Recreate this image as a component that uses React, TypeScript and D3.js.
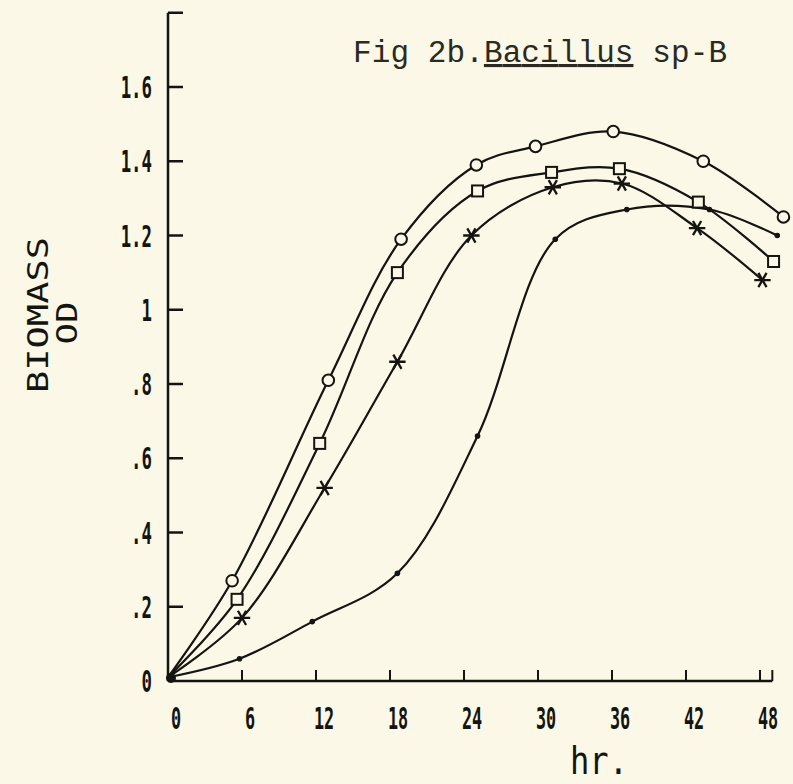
import React, { useRef, useEffect } from 'react';
import * as d3 from 'd3';

// growth readings (hours vs optical density)
const circleHr = [0, 5.2, 13.0, 18.9, 25.0, 29.8, 36.1, 43.4, 49.9];
const circleOD = [0.01, 0.27, 0.81, 1.19, 1.39, 1.44, 1.48, 1.4, 1.25];
const squareHr = [0, 5.6, 12.3, 18.6, 25.1, 31.1, 36.6, 43.0, 49.1];
const squareOD = [0.01, 0.22, 0.64, 1.1, 1.32, 1.37, 1.38, 1.29, 1.13];
const starHr = [0, 6.0, 12.7, 18.6, 24.6, 31.2, 36.8, 42.9, 48.2];
const starOD = [0.01, 0.17, 0.52, 0.86, 1.2, 1.33, 1.34, 1.22, 1.08];
const dotHr = [0, 5.8, 11.7, 18.6, 25.1, 31.4, 37.2, 43.9, 49.4];
const dotOD = [0.01, 0.06, 0.16, 0.29, 0.66, 1.19, 1.27, 1.27, 1.2];

const xTicks = [0, 6, 12, 18, 24, 30, 36, 42, 48];
const xTickLabels = ['0', '6', '12', '18', '24', '30', '36', '42', '48'];
const yTicks = [0, 0.2, 0.4, 0.6, 0.8, 1, 1.2, 1.4, 1.6, 1.8];
const yTickLabels = ['0', '.2', '.4', '.6', '.8', '1', '1.2', '1.4', '1.6', ''];

const PAPER = '#fbf8e7';
const INK = '#141410';
const PLOT_FONT = '"DejaVu Sans Mono", monospace';
const TYPE_FONT = '"Liberation Mono", "Courier New", monospace';

const zip = (xs: number[], ys: number[]) => xs.map((h, i) => ({ h, v: ys[i] }));

const BiomassChart = () => {
  const ref = useRef<SVGSVGElement>(null);

  useEffect(() => {
    const width = 793;
    const height = 784;
    const svg = d3.select(ref.current).attr('viewBox', `0 0 ${width} ${height}`);
    svg.selectAll('*').remove();

    svg.append('rect').attr('width', width).attr('height', height).attr('fill', PAPER);

    const x = d3.scaleLinear().domain([0, 48]).range([168, 760]);
    const y = d3.scaleLinear().domain([0, 1.6]).range([681, 87]);

    const axes = svg.append('g').attr('stroke', INK).attr('stroke-width', 2.5).attr('fill', 'none');
    // y axis
    axes.append('line')
      .attr('x1', x(0)).attr('x2', x(0))
      .attr('y1', y(0)).attr('y2', y(1.8));
    axes.selectAll('line.ytick')
      .data(yTicks.filter(d => d > 0))
      .join('line')
      .attr('class', 'ytick')
      .attr('x1', x(0)).attr('x2', x(0) + 15)
      .attr('y1', d => y(d)).attr('y2', d => y(d));
    // x axis
    axes.append('line')
      .attr('x1', x(0)).attr('x2', x(49))
      .attr('y1', y(0)).attr('y2', y(0));
    axes.selectAll('line.xtick')
      .data([...xTicks.filter(d => d > 0), 49])
      .join('line')
      .attr('class', 'xtick')
      .attr('stroke-width', 2)
      .attr('x1', d => x(d)).attr('x2', d => x(d))
      .attr('y1', y(0)).attr('y2', y(0) - 11);

    // tick labels, condensed plotter lettering
    svg.append('g')
      .selectAll('text')
      .data(yTicks.map((d, i) => ({ d, label: yTickLabels[i] })).filter(t => t.label))
      .join('text')
      .attr('transform', t => `translate(152,${y(t.d) + 11}) scale(0.56,1)`)
      .attr('text-anchor', 'end')
      .attr('font-family', PLOT_FONT)
      .attr('font-weight', 'bold')
      .attr('font-size', 31)
      .attr('fill', INK)
      .text(t => t.label);

    svg.append('g')
      .selectAll('text')
      .data(xTicks.map((d, i) => ({ d, label: xTickLabels[i] })))
      .join('text')
      .attr('transform', t => `translate(${x(t.d) + 8},729) scale(0.56,1)`)
      .attr('text-anchor', 'middle')
      .attr('font-family', PLOT_FONT)
      .attr('font-weight', 'bold')
      .attr('font-size', 30)
      .attr('fill', INK)
      .text(t => t.label);

    // axis titles
    svg.append('text')
      .attr('transform', 'translate(48,315) rotate(-90)')
      .attr('text-anchor', 'middle')
      .attr('font-family', PLOT_FONT)
      .attr('font-size', 29)
      .attr('fill', INK)
      .attr('textLength', 156)
      .attr('lengthAdjust', 'spacingAndGlyphs')
      .text('BIOMASS');
    svg.append('text')
      .attr('transform', 'translate(77,323) rotate(-90)')
      .attr('text-anchor', 'middle')
      .attr('font-family', PLOT_FONT)
      .attr('font-size', 29)
      .attr('fill', INK)
      .attr('textLength', 43)
      .attr('lengthAdjust', 'spacingAndGlyphs')
      .text('OD');
    svg.append('text')
      .attr('x', 599).attr('y', 774)
      .attr('text-anchor', 'middle')
      .attr('font-family', PLOT_FONT)
      .attr('font-size', 37)
      .attr('fill', INK)
      .attr('textLength', 58)
      .attr('lengthAdjust', 'spacingAndGlyphs')
      .text('hr.');

    // typed caption
    const title = svg.append('text')
      .attr('x', 353).attr('y', 62)
      .attr('font-family', TYPE_FONT)
      .attr('font-size', 31)
      .attr('fill', '#2a2a22')
      .attr('textLength', 374)
      .attr('lengthAdjust', 'spacing');
    title.append('tspan').text('Fig 2b.');
    title.append('tspan').style('text-decoration', 'underline').text('Bacillus');
    title.append('tspan').text(' sp-B');

    // growth curves
    const line = d3.line<{ h: number; v: number }>()
      .x(d => x(d.h))
      .y(d => y(d.v))
      .curve(d3.curveCatmullRom.alpha(0.5));

    const series = [
      { key: 'circle', pts: zip(circleHr, circleOD) },
      { key: 'square', pts: zip(squareHr, squareOD) },
      { key: 'star', pts: zip(starHr, starOD) },
      { key: 'dot', pts: zip(dotHr, dotOD) },
    ];

    svg.append('g')
      .selectAll('path')
      .data(series)
      .join('path')
      .attr('d', s => line(s.pts))
      .attr('fill', 'none')
      .attr('stroke', INK)
      .attr('stroke-width', 2.2)
      .attr('stroke-linecap', 'round');

    const marks = svg.append('g').attr('stroke', INK).attr('stroke-width', 2);
    const skipOrigin = (pts: { h: number; v: number }[]) => pts.filter(p => p.h > 0);

    marks.selectAll('circle.o')
      .data(skipOrigin(series[0].pts))
      .join('circle')
      .attr('class', 'o')
      .attr('cx', d => x(d.h)).attr('cy', d => y(d.v))
      .attr('r', 5.8)
      .attr('fill', PAPER);

    marks.selectAll('rect.sq')
      .data(skipOrigin(series[1].pts))
      .join('rect')
      .attr('class', 'sq')
      .attr('x', d => x(d.h) - 5.5).attr('y', d => y(d.v) - 5.5)
      .attr('width', 11).attr('height', 11)
      .attr('fill', PAPER);

    const star = d3.symbol(d3.symbolAsterisk, 190);
    marks.selectAll('path.st')
      .data(skipOrigin(series[2].pts))
      .join('path')
      .attr('class', 'st')
      .attr('d', star)
      .attr('transform', d => `translate(${x(d.h)},${y(d.v)}) rotate(90)`)
      .attr('fill', 'none')
      .attr('stroke-width', 2.3);

    marks.selectAll('circle.dt')
      .data(skipOrigin(series[3].pts))
      .join('circle')
      .attr('class', 'dt')
      .attr('cx', d => x(d.h)).attr('cy', d => y(d.v))
      .attr('r', 2.8)
      .attr('stroke', 'none')
      .attr('fill', INK);

    // ink blob where the curves leave the origin
    svg.append('circle')
      .attr('cx', x(0) + 3).attr('cy', y(0) - 3)
      .attr('r', 5)
      .attr('fill', INK);

    return () => {
      svg.selectAll('*').remove();
    };
  }, []);

  return (
    <svg
      ref={ref}
      width={793}
      height={784}
      style={{ position: 'fixed', left: 0, top: 0, display: 'block' }}
    />
  );
};

export default function App() {
  return <BiomassChart />;
}
